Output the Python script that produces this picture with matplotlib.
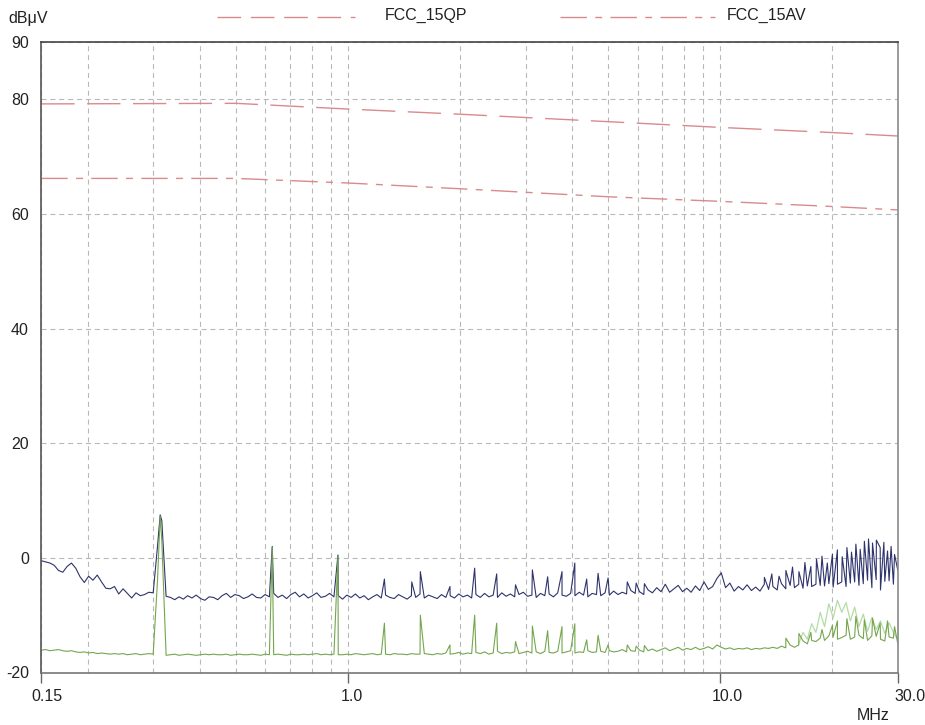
import numpy as np
import matplotlib
matplotlib.use('Agg')
import matplotlib.pyplot as plt
from matplotlib.lines import Line2D
from matplotlib.ticker import NullFormatter, FixedLocator
from matplotlib.transforms import ScaledTranslation

plt.rcParams['font.family'] = ['Liberation Sans', 'DejaVu Sans']
plt.rcParams['axes.unicode_minus'] = False

# ---------------- data ----------------
# limit lines (MHz, dBuV)
qp_freq = [0.15, 0.5, 1.0, 2.0, 5.0, 10.0, 20.0, 30.0]
qp_level = [79.2, 79.3, 78.3, 77.4, 76.1, 75.1, 74.2, 73.6]
av_freq = [0.15, 0.5, 1.0, 2.0, 5.0, 10.0, 20.0, 30.0]
av_level = [66.2, 66.2, 65.4, 64.4, 63.0, 62.2, 61.3, 60.7]

# receiver sweep points (log sweep 0.15 - 30 MHz, 200 points)
sweep_freq = np.geomspace(0.15, 30.0, 200)

# peak detector trace, read per sweep point
peak_level = [
    -0.5, -0.7, -0.9, -1.3, -2.2, -2.5, -1.5, -0.9, -1.8, -3.3,
    -4.3, -3.2, -3.9, -3.0, -4.2, -5.3, -5.4, -5.0, -6.3, -5.4,
    -6.2, -7.0, -6.1, -6.6, -6.4, -6.0, -6.1, 2.0, 6.5, -6.7,
    -6.9, -7.3, -6.8, -7.2, -6.6, -7.0, -6.5, -7.1, -7.4, -6.8,
    -6.9, -7.3, -6.6, -6.2, -6.9, -6.4, -6.6, -7.1, -6.8, -6.3,
    -6.9, -7.0, -6.4, -6.8, -6.2, -6.9, -6.5, -7.1, -6.4, -6.0,
    -6.8, -6.3, -7.0, -6.6, -6.1, -6.9, -6.7, -6.2, -6.8, -6.6,
    -7.2, -6.5, -6.9, -6.3, -7.0, -6.6, -7.3, -6.8, -6.4, -7.0,
    -6.5, -6.9, -7.1, -6.4, -6.8, -7.2, -6.6, -6.9, -6.3, -7.0,
    -6.5, -6.8, -7.1, -6.4, -6.9, -6.6, -7.0, -6.3, -6.8, -6.5,
    -7.0, -6.4, -6.9, -6.2, -6.8, -6.5, -6.9, -6.1, -6.7, -6.3,
    -6.8, -6.4, -6.0, -6.7, -6.5, -6.9, -6.2, -6.6, -6.3, -6.8,
    -6.1, -6.5, -6.7, -6.2, -6.6, -6.0, -6.5, -6.8, -6.2, -6.4,
    -6.6, -6.1, -6.5, -5.8, -6.4, -6.0, -6.3, -5.7, -6.2, -5.9,
    -6.4, -5.6, -6.1, -5.2, -5.9, -4.6, -6.0, -5.4, -4.8, -5.9,
    -5.3, -6.0, -4.9, -5.7, -4.2, -5.5, -5.0, -3.6, -2.6, -5.2,
    -4.4, -5.8, -5.0, -5.6, -4.7, -5.7, -5.1, -5.8, -4.6, -5.5,
    -5.0, -5.6, -4.5, -5.4, -4.8, -5.2, -4.6, -5.3, -4.9, -5.0,
    -4.6, -4.8, -4.9, -4.5, -5.1, -4.6, -4.2, -5.0, -4.4, -4.2,
    -4.8, -4.5, -3.9, -5.2, -3.8, -5.6, -4.1, -4.0, -4.6, -2.1,
]

# average detector trace, read per sweep point
avg_level = [
    -16.1, -16.0, -16.2, -16.1, -16.0, -16.2, -16.3, -16.2, -16.4, -16.5,
    -16.4, -16.6, -16.5, -16.7, -16.6, -16.7, -16.8, -16.7, -16.8, -16.7,
    -16.9, -16.8, -16.7, -16.9, -16.8, -16.7, -16.8, -4.0, 3.0, -17.0,
    -16.9, -16.8, -17.0, -16.9, -16.8, -16.9, -17.0, -16.9, -16.8, -16.9,
    -16.8, -16.9, -16.9, -16.8, -17.0, -16.9, -16.8, -16.9, -16.9, -16.8,
    -16.9, -17.0, -16.8, -16.9, -16.9, -16.8, -16.9, -17.0, -16.8, -16.9,
    -16.9, -16.8, -16.9, -16.8, -16.7, -16.9, -16.8, -16.9, -16.8, -16.9,
    -16.9, -16.8, -16.9, -16.7, -16.8, -16.9, -16.8, -16.7, -16.9, -16.8,
    -16.8, -16.9, -16.7, -16.8, -16.8, -16.9, -16.7, -16.8, -16.8, -16.7,
    -16.8, -16.9, -16.7, -16.8, -16.6, -16.8, -16.7, -16.5, -16.8, -16.6,
    -16.7, -16.5, -16.7, -16.4, -16.8, -16.6, -16.3, -16.7, -16.5, -16.6,
    -16.4, -16.7, -16.5, -16.3, -16.6, -16.4, -16.7, -16.3, -16.5, -16.6,
    -16.3, -16.6, -16.4, -16.2, -16.6, -16.4, -16.5, -16.2, -16.5, -16.4,
    -16.3, -16.5, -16.2, -16.4, -16.3, -16.0, -16.4, -16.2, -16.3, -16.1,
    -16.4, -16.2, -15.9, -16.3, -16.0, -15.7, -16.2, -15.9, -15.6, -16.1,
    -15.8, -16.0, -15.6, -16.0, -15.8, -15.5, -15.9, -15.2, -15.6, -15.9,
    -15.7, -16.0, -15.8, -15.9, -15.7, -16.0, -15.8, -15.9, -15.7, -15.8,
    -15.6, -15.8, -15.4, -15.7, -15.2, -15.6, -15.2, -14.5, -15.0, -14.4,
    -14.6, -14.0, -14.4, -13.6, -13.8, -14.2, -13.9, -13.5, -14.2, -13.8,
    -13.5, -14.1, -14.4, -13.6, -13.7, -14.2, -14.5, -13.8, -14.0, -14.9,
]

# lighter average overlay in the 20-30 MHz band (sweep points 176..199)
avg_light_level = [
    -15.0, -13.0, -14.2, -11.5, -13.0, -9.5, -12.0, -8.0, -10.5, -7.4,
    -9.5, -7.8, -11.0, -8.6, -12.0, -9.8, -12.8, -10.4, -12.5, -11.0,
    -13.2, -11.3, -13.0, -14.2,
]

# harmonic spikes (MHz, dBuV)
peak_spike_freq = [0.313, 0.626, 0.94, 1.253, 1.484, 1.565, 1.88, 2.19, 2.51,
                   2.82, 3.13, 3.44, 3.76, 4.07, 4.38, 4.70, 5.0, 5.63, 5.95, 6.26,
                   13.15, 13.77, 14.40, 15.02, 15.65, 16.28, 16.90, 17.53, 18.15,
                   18.78, 19.41, 20.03, 20.66, 21.28, 21.91, 22.54, 23.16, 23.79,
                   24.41, 25.04, 25.67, 26.29, 26.92, 27.54, 28.17, 28.80, 29.42]
peak_spike_level = [7.5, 2.0, 0.5, -3.7, -4.2, -2.4, -5.0, -1.8, -2.8,
                    -4.7, -2.1, -3.3, -2.4, -0.9, -3.7, -2.7, -3.5, -4.2, -4.4, -4.5,
                    -3.4, -2.8, -3.2, -2.2, -1.6, -2.4, -0.8, -1.5, -0.2,
                    0.3, -0.9, 0.6, 1.4, 0.2, 1.8, 1.0, 2.4, 1.5,
                    2.9, 3.3, 2.6, 3.1, 1.8, 2.7, 1.2, 2.0, 0.6]
avg_spike_freq = [0.313, 0.626, 0.94, 1.253, 1.565, 1.88, 2.19, 2.51,
                  2.82, 3.13, 3.44, 3.76, 4.07, 4.38, 4.70, 5.0, 5.63, 5.95, 6.26,
                  15.02, 16.28, 17.53, 18.78, 20.03, 20.66, 21.91, 23.16,
                  24.41, 25.67, 26.92, 28.17, 29.42]
avg_spike_level = [7.3, 1.8, 0.3, -11.4, -10.0, -15.2, -10.0, -11.4,
                   -14.6, -11.9, -12.7, -12.0, -11.5, -14.3, -13.5, -15.2, -15.2, -15.4, -15.3,
                   -14.0, -13.2, -13.0, -12.5, -11.8, -11.0, -10.6, -10.2,
                   -10.8, -10.5, -11.4, -11.0, -12.0]

y_ticks = [-20, 0, 20, 40, 60, 80, 90]
x_ticks = [0.15, 1.0, 10.0, 30.0]
x_tick_labels = ['0.15', '1.0', '10.0', '30.0']
x_grid_minor = [0.2, 0.3, 0.4, 0.5, 0.6, 0.7, 0.8, 0.9, 2, 3, 4, 5, 6, 7, 8, 9, 20]

# ---------------- figure ----------------
W, H = 925, 725
fig = plt.figure(figsize=(W / 100, H / 100), dpi=100)
ax = fig.add_axes([41.3 / W, (H - 672.5) / H, (897.7 - 41.3) / W, (672.5 - 42) / H])
ax.set_xscale('log')
ax.set_xlim(0.15, 30)
ax.set_ylim(-20, 90)

grid_kw = dict(color='#b8b8b8', linestyle=(0, (4.5, 3.5)), linewidth=0.8)
ax.xaxis.set_major_locator(FixedLocator(x_ticks))
ax.set_xticklabels(x_tick_labels)
ax.xaxis.set_minor_locator(FixedLocator(x_grid_minor))
ax.xaxis.set_minor_formatter(NullFormatter())
ax.set_yticks(y_ticks)
ax.grid(True, which='both', axis='x', **grid_kw)
ax.grid(True, which='major', axis='y', **grid_kw)
ax.set_axisbelow(True)

ax.tick_params(axis='y', length=0, pad=9, labelsize=11.5, labelcolor='#222')
ax.tick_params(axis='x', which='major', length=7, width=1, color='#666', pad=5,
               labelsize=11.5, labelcolor='#222')
ax.tick_params(axis='x', which='minor', length=0)

for side, c in [('top', '#444444'), ('left', '#555555'), ('bottom', '#777777'), ('right', '#8a8a8a')]:
    ax.spines[side].set_color(c)
    ax.spines[side].set_linewidth(1.2)

# shift x tick labels slightly right as in reference
offsets = [6, 4, 7, 12]
for lab, dx in zip(ax.get_xticklabels(), offsets):
    lab.set_transform(lab.get_transform() + ScaledTranslation(dx / 100, 0, fig.dpi_scale_trans))

limit_color = '#d98a8c'
qp_dash = (0, (24, 9))
av_dash = (0, (19, 6, 5, 6))
ax.plot(qp_freq, qp_level, color=limit_color, linewidth=1.0, linestyle=qp_dash)
ax.plot(av_freq, av_level, color=limit_color, linewidth=1.0, linestyle=av_dash)

# merge sweep points with spikes
pf = np.concatenate([sweep_freq, peak_spike_freq])
pv = np.concatenate([peak_level, peak_spike_level])
o = np.argsort(pf)
ax.plot(pf[o], pv[o], color='#2f336c', linewidth=0.8)

af = np.concatenate([sweep_freq, avg_spike_freq])
av = np.concatenate([avg_level, avg_spike_level])
o = np.argsort(af)
ax.plot(sweep_freq[176:], avg_light_level, color='#b5dca6', linewidth=0.9)
ax.plot(af[o], av[o], color='#74a64e', linewidth=0.8)

# texts
fig.text(8 / W, 1 - 18 / H, 'dBμV', ha='left', va='center', fontsize=11.5, color='#222')
fig.text(873 / W, 1 - 715 / H, 'MHz', ha='center', va='center', fontsize=11.5, color='#222')

# legend
ly = 1 - 17 / H
fig.add_artist(Line2D([217 / W, 355 / W], [ly, ly], transform=fig.transFigure,
                      color=limit_color, linewidth=1.0, linestyle=(0, (17, 7))))
fig.text(385 / W, 1 - 15 / H, 'FCC_15QP', ha='left', va='center', fontsize=11.5, color='#222')
fig.add_artist(Line2D([560 / W, 715 / W], [ly, ly], transform=fig.transFigure,
                      color=limit_color, linewidth=1.0, linestyle=av_dash))
fig.text(727 / W, 1 - 15 / H, 'FCC_15AV', ha='left', va='center', fontsize=11.5, color='#222')

fig.savefig('out.png', dpi=100)
